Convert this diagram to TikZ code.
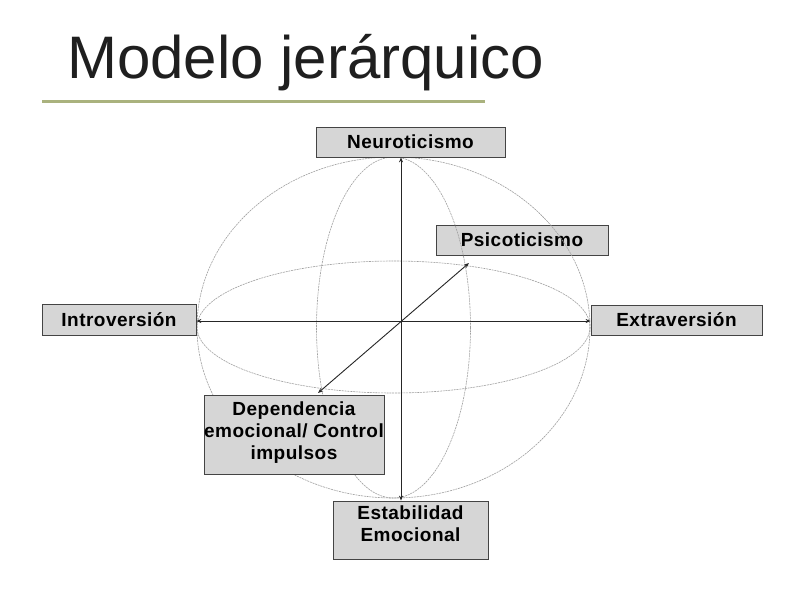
\documentclass[tikz,border=0pt]{standalone}
\usepackage{fontspec}
\setmainfont{Liberation Sans}
\newfontfamily\boxfont[LetterSpace=2.5]{Liberation Sans}
\usetikzlibrary{arrows.meta}
\definecolor{olivebar}{HTML}{AAB27E}
\definecolor{boxfill}{HTML}{D6D6D6}
\definecolor{boxline}{HTML}{444444}
\definecolor{spherecol}{HTML}{A0A0A0}
\begin{document}
\begin{tikzpicture}[x=1pt,y=-1pt,
  lbl/.style={draw=boxline, fill=boxfill, line width=0.8pt, inner sep=0pt, align=center,
    font=\boxfont\bfseries\fontsize{19}{22}\selectfont, text=black},
  txt/.style={inner sep=0pt, align=center,
    font=\boxfont\bfseries\fontsize{19}{22}\selectfont, text=black},
  sph/.style={draw=spherecol, line width=0.6pt, dash pattern=on 2pt off 0.8pt},
  axisline/.style={draw=black!85, line width=0.9pt,
    {Stealth[length=5pt,width=4pt]}-{Stealth[length=5pt,width=4pt]}}]
\useasboundingbox[fill=white] (0,0) rectangle (800,600);

% title
\node[anchor=base west, inner sep=0pt, font=\fontsize{60}{72}\selectfont, text=black!88] (title) at (67,78) {Modelo jerárquico};
\draw[olivebar, line width=3pt] (42,101) coordinate (barL) -- (485,101) coordinate (barR);

% box crossed by the sphere lines
\node[lbl, minimum width=172, minimum height=30] (psico) at (522,240) {Psicoticismo};

% sphere
\draw[sph] (393.5,327.5) ellipse [x radius=196.5, y radius=170.5];
\draw[sph] (393.5,327.5) ellipse [x radius=77, y radius=170.5];
\draw[sph] (393.5,327) ellipse [x radius=196.5, y radius=66];

% other boxes
\node[lbl, minimum width=189, minimum height=30] (neuro) at (410.5,142) {Neuroticismo};
\node[lbl, minimum width=154, minimum height=31] (intro) at (119,319.5) {Introversión};
\node[lbl, minimum width=171, minimum height=30] (extra) at (676.5,320) {Extraversión};
\node[lbl, minimum width=180, minimum height=79] (dep) at (294,434.5) {};
\node[txt, anchor=north] (deptext) at ([yshift=-7pt]dep.north) {Dependencia\\emocional/ Control\\impulsos};
\node[lbl, minimum width=155, minimum height=58] (estab) at (410.5,530) {};
\node[txt, anchor=north] (estabtext) at ([yshift=-5pt]estab.north) {Estabilidad\\Emocional};

% axes
\coordinate (C) at (401,321);
\coordinate (Pt) at (469,263);
\coordinate (Dt) at (318,393);
\draw[axisline] (C |- neuro.south) -- (C |- estab.north);
\draw[axisline] (intro.east |- C) -- (extra.west |- C);
\draw[axisline] (Dt) -- (Pt);
\end{tikzpicture}
\end{document}
